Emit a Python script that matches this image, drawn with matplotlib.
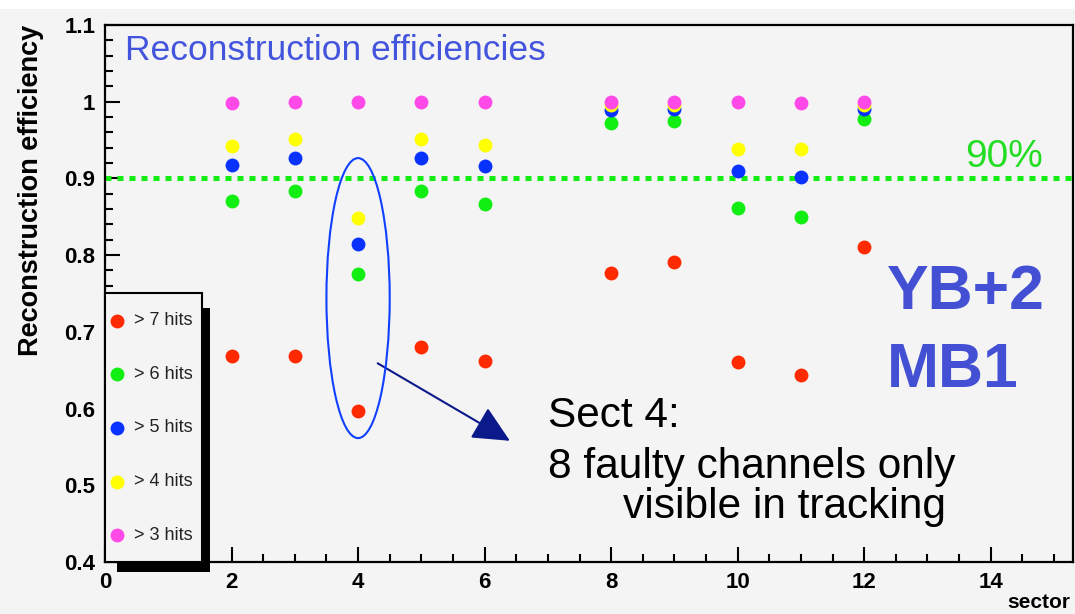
import matplotlib
matplotlib.use("Agg")
import matplotlib.pyplot as plt
from matplotlib.patches import Ellipse, Rectangle
from matplotlib.ticker import MultipleLocator, FuncFormatter

plt.rcParams["font.family"] = ["Liberation Sans", "DejaVu Sans"]

# ---------------------------------------------------------------------------
# Data: reconstruction efficiency per sector for each hit requirement
# ---------------------------------------------------------------------------
sectors = [2, 3, 4, 5, 6, 8, 9, 10, 11, 12]

eff_7hits = [0.669, 0.669, 0.597, 0.680, 0.662, 0.777, 0.791, 0.661, 0.644, 0.811]
eff_6hits = [0.870, 0.884, 0.776, 0.883, 0.867, 0.972, 0.975, 0.862, 0.850, 0.977]
eff_5hits = [0.917, 0.927, 0.814, 0.926, 0.916, 0.989, 0.990, 0.910, 0.902, 0.991]
eff_4hits = [0.942, 0.951, 0.848, 0.952, 0.943, 0.996, 0.996, 0.938, 0.938, 0.996]
eff_3hits = [0.998, 0.999, 0.999, 0.999, 0.999, 0.999, 0.999, 0.999, 0.998, 0.999]

series_labels = ["> 7 hits", "> 6 hits", "> 5 hits", "> 4 hits", "> 3 hits"]
series_colors = ["#ff2a00", "#11ee11", "#0a32ff", "#ffff00", "#ff4ae8"]

threshold = 0.90

BG = "#f4f4f4"
W, H = 1075, 614


def px(x, y):
    """pixel position -> figure fraction"""
    return x / W, 1 - y / H


fig = plt.figure(figsize=(W / 100, H / 100), dpi=100, facecolor=BG)
fig.patches.append(Rectangle((0, 1 - 9 / H), 1, 9 / H, transform=fig.transFigure,
                             facecolor="white", edgecolor="none", zorder=0))

ax_l, ax_r, ax_t, ax_b = 105, 1073, 25, 562
ax = fig.add_axes([ax_l / W, 1 - ax_b / H, (ax_r - ax_l) / W, (ax_b - ax_t) / H])
ax.set_facecolor(BG)
ax.set_xlim(0, 15.3)
ax.set_ylim(0.4, 1.1)

# 90% reference line
ax.axhline(threshold, color="#11ee11", lw=3.6, linestyle=(0, (1.2, 1.2)),
           dash_capstyle="butt", zorder=2)

all_series = [eff_7hits, eff_6hits, eff_5hits, eff_4hits, eff_3hits]
for vals, color in zip(all_series, series_colors):
    ax.plot(sectors, vals, "o", color=color, markersize=10, markeredgewidth=0, zorder=3)

# axis styling (ROOT-like frame)
for sp in ax.spines.values():
    sp.set_linewidth(1.6)
ax.xaxis.set_major_locator(MultipleLocator(2))
ax.xaxis.set_minor_locator(MultipleLocator(0.5))
ax.yaxis.set_major_locator(MultipleLocator(0.1))
ax.yaxis.set_minor_locator(MultipleLocator(0.02))
ax.yaxis.set_major_formatter(FuncFormatter(lambda v, p: "%g" % round(v, 2)))
ax.xaxis.set_major_formatter(FuncFormatter(lambda v, p: "%g" % v))
ax.tick_params(which="both", direction="in", top=False, right=False, width=1.5)
ax.tick_params(which="major", length=11)
ax.tick_params(which="minor", length=5.5)
ax.tick_params(axis="both", labelsize=16, pad=7)
for lab in ax.get_xticklabels() + ax.get_yticklabels():
    lab.set_fontweight("bold")

fig.text(*px(31, 25), "Reconstruction efficiency", rotation=90, ha="center", va="top",
         fontsize=19.5, fontweight="bold")
fig.text(*px(1070, 603), "sector", ha="right", va="center", fontsize=15, fontweight="bold")

# titles and annotations
fig.text(*px(125, 50), "Reconstruction efficiencies", ha="left", va="center",
         fontsize=25.5, color="#4455dd")
fig.text(*px(1043, 167), "90%", ha="right", va="baseline", fontsize=28, color="#22dd22")
fig.text(*px(887, 309), "YB+2", ha="left", va="baseline", fontsize=45,
         fontweight="bold", color="#4450d4")
fig.text(*px(887, 387), "MB1", ha="left", va="baseline", fontsize=45,
         fontweight="bold", color="#4450d4")
fig.text(*px(548, 427), "Sect 4:", ha="left", va="baseline", fontsize=30.5)
fig.text(*px(548, 478), "8 faulty channels only", ha="left", va="baseline", fontsize=30.5)
fig.text(*px(623, 518), "visible in tracking", ha="left", va="baseline", fontsize=30.5)

# ellipse around sector 4 and arrow to the comment
ax.add_patch(Ellipse((4, 0.744), width=1.0, height=0.365, fill=False,
                     edgecolor="#1040ff", lw=1.5, zorder=4))
ax.annotate("", xy=(6.4, 0.558), xytext=(4.31, 0.659),
            arrowprops=dict(arrowstyle="-|>,head_length=2.3,head_width=1.1",
                            color="#0a1a8a", lw=1.5, shrinkA=0, shrinkB=0))

# legend box with drop shadow
ax.add_patch(Rectangle((0.0124, -0.0186), 0.096, 0.4916, transform=ax.transAxes,
                       facecolor="black", edgecolor="none", clip_on=False, zorder=5))
ax.add_patch(Rectangle((0.0, 0.0), 0.100, 0.50, transform=ax.transAxes,
                       facecolor=BG, edgecolor="black", lw=1.5, clip_on=False, zorder=6))
for i, (label, color) in enumerate(zip(series_labels, series_colors)):
    y = 0.449 - i * 0.0997
    ax.plot([0.0124], [y], "o", color=color, markersize=10, markeredgewidth=0,
            transform=ax.transAxes, clip_on=False, zorder=7)
    ax.text(0.030, y, label, transform=ax.transAxes, ha="left", va="center",
            fontsize=13, color="#222222", zorder=7)

fig.savefig("out.png", dpi=100, facecolor=BG)
